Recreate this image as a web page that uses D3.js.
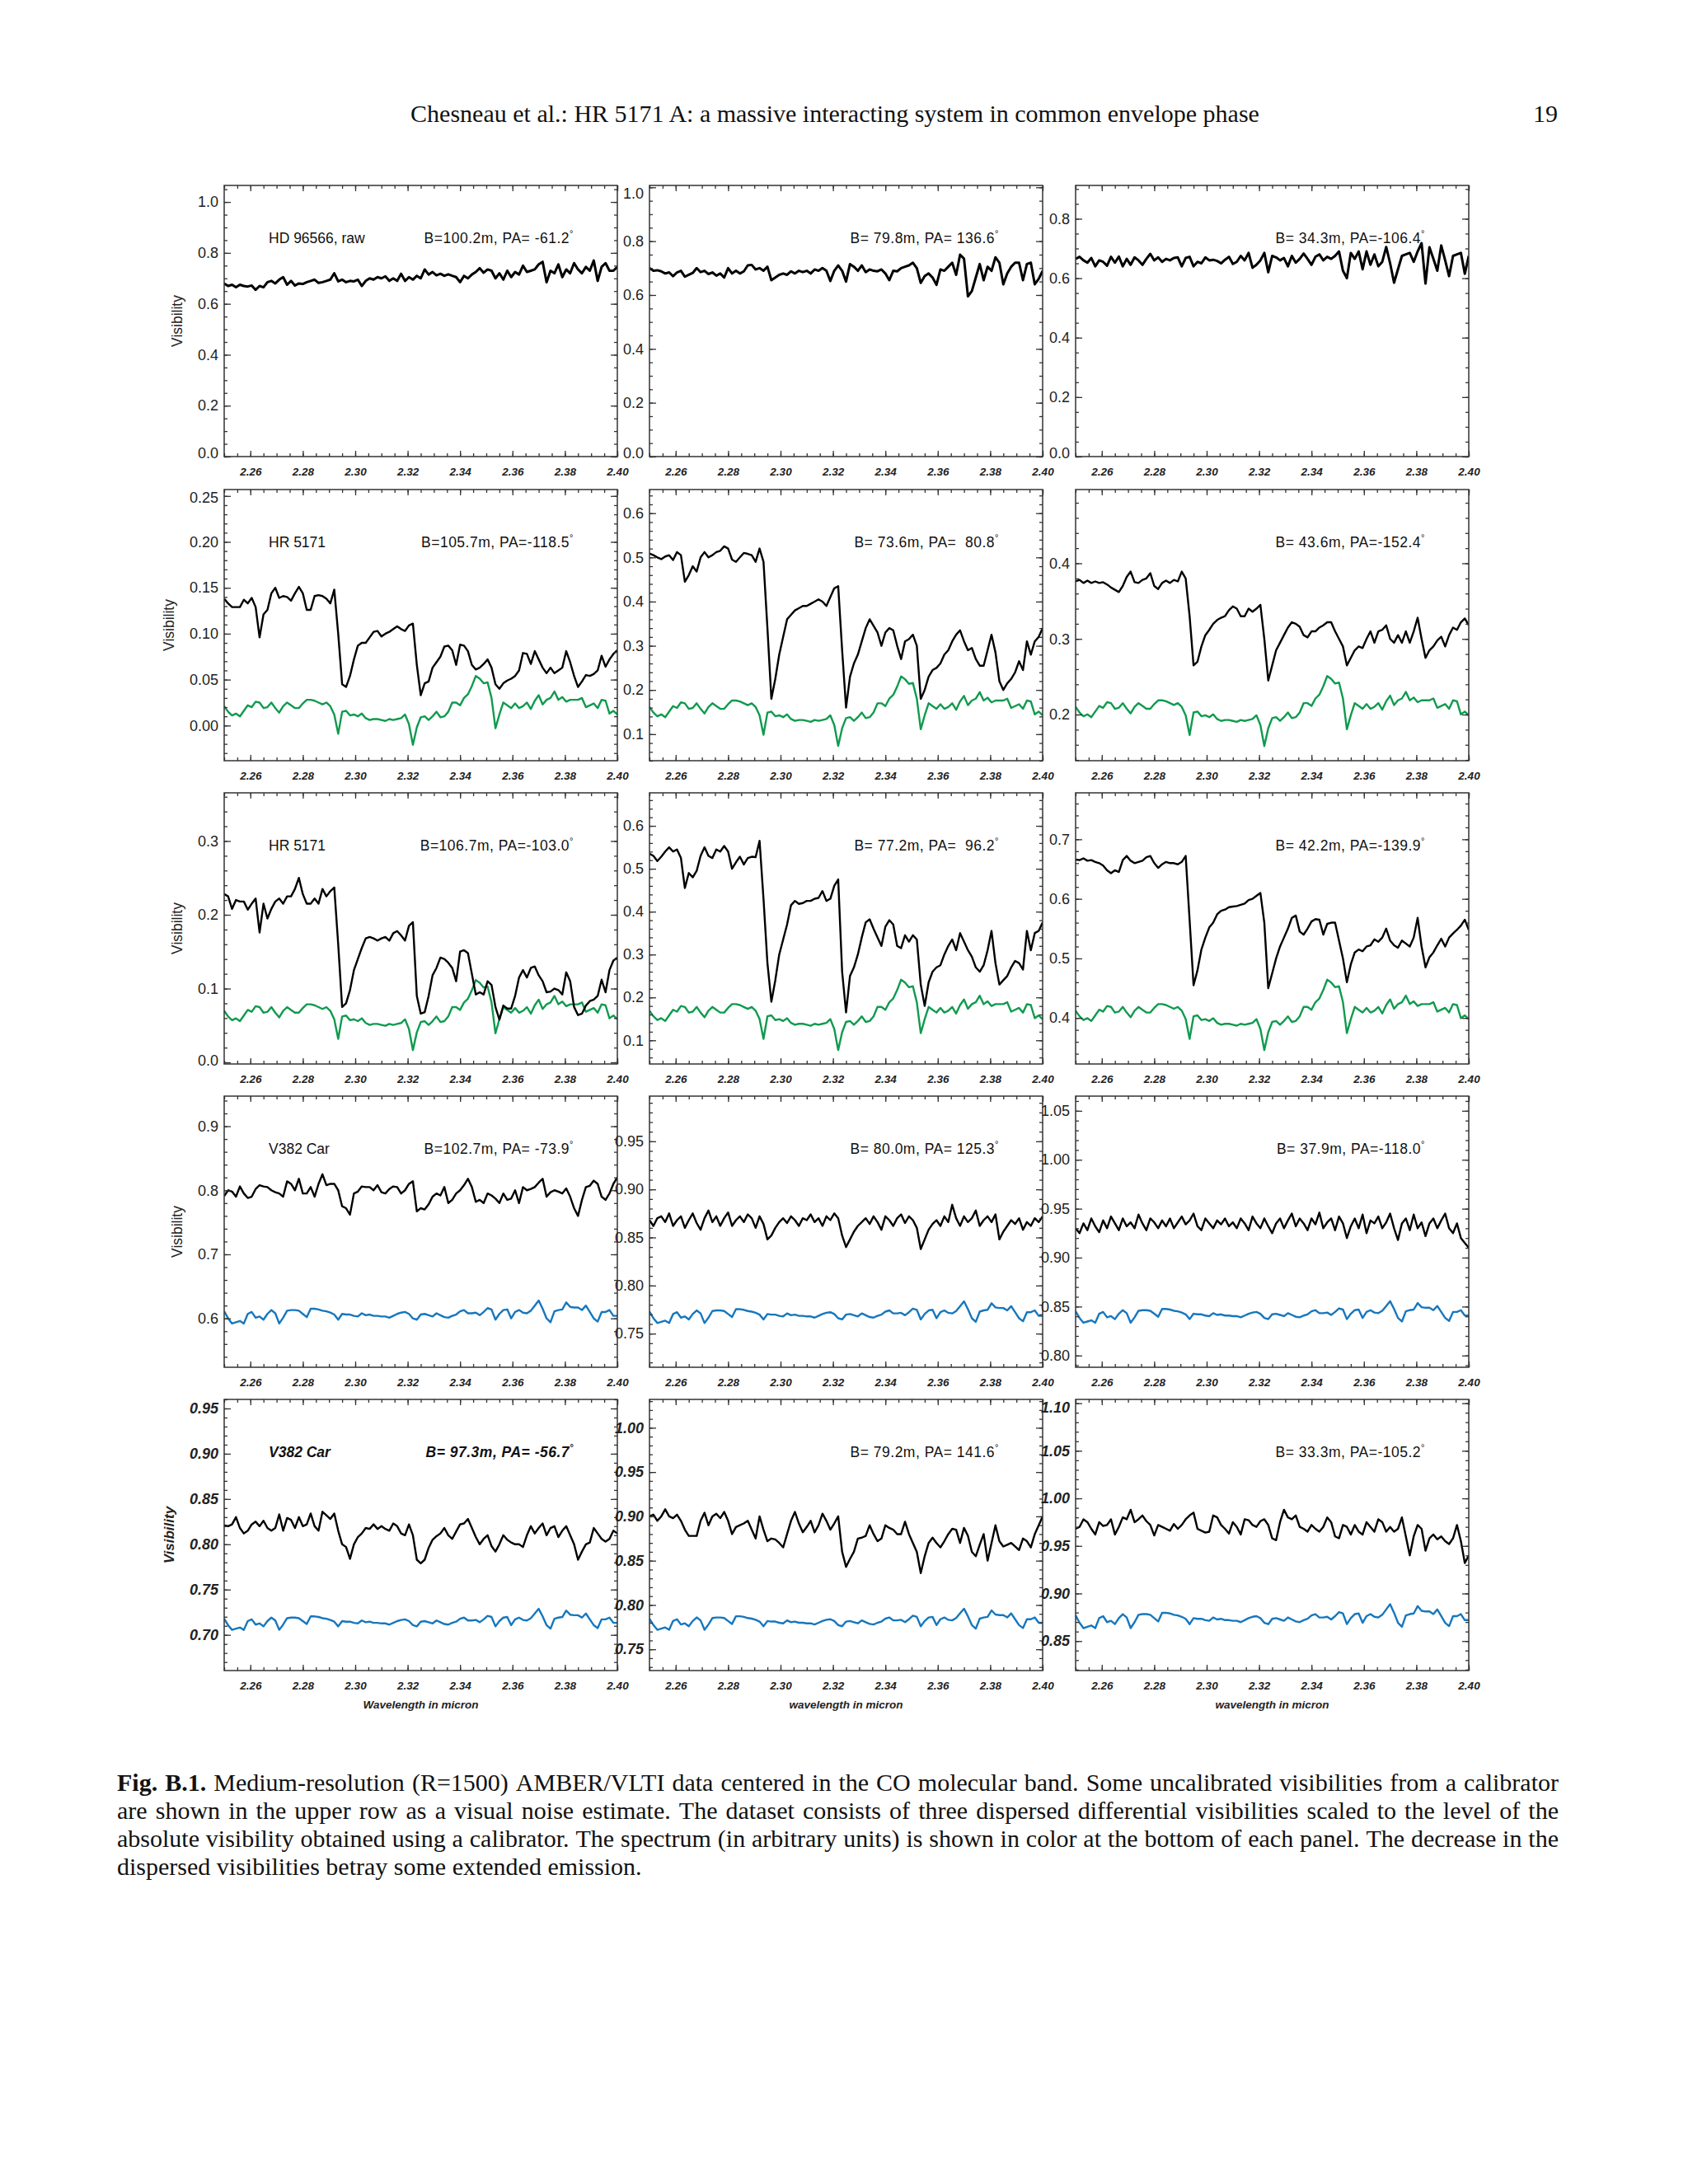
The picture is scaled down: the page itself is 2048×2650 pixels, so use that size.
<!DOCTYPE html>
<html><head><meta charset="utf-8">
<script src="https://cdn.jsdelivr.net/npm/d3@7"></script>
<style>body{margin:0;background:#fff}text{white-space:pre}</style>
</head><body>
<svg id="fig" width="2048" height="2650"></svg>
<script>
// ---------------- DATA ----------------
const headerTitle = "Chesneau et al.: HR 5171 A: a massive interacting system in common envelope phase";
const pageNumber = "19";
const wlStart = 2.25, wlStep = 0.0015, nPts = 101;
const wavelength = d3.range(nPts).map(i => wlStart + i * wlStep);
const xDomain = [2.25, 2.40];
const xTickLabels = [2.26, 2.28, 2.30, 2.32, 2.34, 2.36, 2.38, 2.40];

const targetNames = ["HD 96566, raw", "HR 5171", "HR 5171", "V382 Car", "V382 Car"];
const baselineLabels = [
  "B=100.2m, PA= -61.2", "B= 79.8m, PA= 136.6", "B= 34.3m, PA=-106.4",
  "B=105.7m, PA=-118.5", "B= 73.6m, PA=  80.8", "B= 43.6m, PA=-152.4",
  "B=106.7m, PA=-103.0", "B= 77.2m, PA=  96.2", "B= 42.2m, PA=-139.9",
  "B=102.7m, PA= -73.9", "B= 80.0m, PA= 125.3", "B= 37.9m, PA=-118.0",
  "B= 97.3m, PA= -56.7", "B= 79.2m, PA= 141.6", "B= 33.3m, PA=-105.2"];
const xTitles = ["Wavelength in micron", "wavelength in micron", "wavelength in micron"];

const yDomains = [
  [0, 1.065], [0, 1.007], [0, 0.912],
  [-0.0383, 0.257], [0.040, 0.6535], [0.139, 0.4975],
  [-0.0022, 0.3653], [0.0448, 0.677], [0.3228, 0.778],
  [0.5237, 0.947], [0.715, 0.997], [0.788, 1.065],
  [0.6606, 0.96], [0.726, 1.032], [0.819, 1.104]];
const yTickLabels = [
  [0, 0.2, 0.4, 0.6, 0.8, 1.0], [0, 0.2, 0.4, 0.6, 0.8, 1.0], [0, 0.2, 0.4, 0.6, 0.8],
  [0, 0.05, 0.10, 0.15, 0.20, 0.25], [0.1, 0.2, 0.3, 0.4, 0.5, 0.6], [0.2, 0.3, 0.4],
  [0, 0.1, 0.2, 0.3], [0.1, 0.2, 0.3, 0.4, 0.5, 0.6], [0.4, 0.5, 0.6, 0.7],
  [0.6, 0.7, 0.8, 0.9], [0.75, 0.80, 0.85, 0.90, 0.95], [0.80, 0.85, 0.90, 0.95, 1.00, 1.05],
  [0.70, 0.75, 0.80, 0.85, 0.90, 0.95], [0.75, 0.80, 0.85, 0.90, 0.95, 1.00], [0.85, 0.90, 0.95, 1.00, 1.05, 1.10]];
const yMinorSteps = [0.05, 0.05, 0.05, 0.01, 0.02, 0.02, 0.02, 0.02, 0.02, 0.02, 0.01, 0.01, 0.01, 0.01, 0.01];
const yDecimals = [1, 1, 1, 2, 1, 1, 1, 1, 1, 1, 2, 2, 2, 2, 2];

// Visibilities (black curves), sampled on the wavelength grid
const visHD96566_B100 = [0.68,0.67,0.675,0.665,0.675,0.67,0.668,0.672,0.655,0.67,
 0.665,0.685,0.69,0.68,0.695,0.705,0.675,0.69,0.672,0.68,
 0.678,0.685,0.69,0.695,0.682,0.685,0.69,0.695,0.72,0.688,
 0.695,0.685,0.69,0.688,0.695,0.67,0.69,0.7,0.695,0.705,
 0.7,0.708,0.69,0.7,0.69,0.718,0.69,0.705,0.695,0.71,
 0.7,0.735,0.715,0.725,0.712,0.718,0.71,0.716,0.71,0.705,
 0.685,0.71,0.7,0.715,0.725,0.74,0.722,0.735,0.73,0.7,
 0.72,0.695,0.73,0.705,0.725,0.715,0.75,0.725,0.73,0.735,
 0.755,0.765,0.685,0.73,0.72,0.755,0.705,0.735,0.72,0.76,
 0.735,0.72,0.745,0.73,0.77,0.69,0.745,0.76,0.73,0.73,0.745];
const visHD96566_B80 = [0.70,0.69,0.692,0.688,0.68,0.684,0.67,0.684,0.69,0.668,
 0.675,0.682,0.7,0.685,0.69,0.678,0.684,0.672,0.68,0.665,
 0.7,0.68,0.69,0.68,0.688,0.71,0.712,0.695,0.7,0.69,
 0.705,0.655,0.665,0.675,0.68,0.675,0.688,0.68,0.69,0.685,
 0.69,0.68,0.695,0.69,0.7,0.69,0.652,0.69,0.71,0.69,
 0.65,0.715,0.705,0.69,0.71,0.685,0.695,0.69,0.688,0.695,
 0.68,0.655,0.69,0.688,0.7,0.705,0.71,0.72,0.7,0.645,
 0.67,0.68,0.665,0.638,0.695,0.69,0.705,0.72,0.675,0.75,
 0.735,0.595,0.615,0.665,0.715,0.655,0.705,0.69,0.74,0.72,
 0.64,0.68,0.705,0.72,0.72,0.655,0.715,0.72,0.64,0.66,0.69];
const visHD96566_B34 = [0.665,0.672,0.66,0.652,0.668,0.64,0.66,0.655,0.642,0.672,
 0.652,0.673,0.64,0.665,0.645,0.67,0.66,0.645,0.665,0.682,
 0.66,0.67,0.655,0.665,0.66,0.668,0.67,0.64,0.668,0.672,
 0.64,0.655,0.65,0.67,0.66,0.662,0.658,0.65,0.662,0.672,
 0.648,0.655,0.675,0.66,0.685,0.635,0.645,0.66,0.685,0.62,
 0.675,0.67,0.66,0.668,0.64,0.675,0.652,0.665,0.683,0.665,
 0.645,0.672,0.68,0.66,0.672,0.665,0.675,0.69,0.625,0.6,
 0.685,0.665,0.69,0.63,0.69,0.645,0.68,0.64,0.655,0.705,
 0.65,0.585,0.63,0.675,0.68,0.685,0.655,0.69,0.718,0.582,
 0.704,0.665,0.625,0.71,0.66,0.607,0.675,0.68,0.685,0.615,0.675];
const visHR5171_B106a = [0.138,0.133,0.129,0.129,0.129,0.137,0.133,0.139,0.129,0.096,
 0.121,0.126,0.144,0.150,0.139,0.141,0.140,0.136,0.144,0.151,
 0.144,0.126,0.126,0.141,0.142,0.141,0.138,0.133,0.148,0.10,
 0.045,0.042,0.054,0.072,0.087,0.09,0.09,0.096,0.102,0.103,
 0.097,0.1,0.102,0.105,0.108,0.105,0.103,0.109,0.111,0.066,
 0.033,0.046,0.048,0.063,0.069,0.075,0.086,0.087,0.082,0.066,
 0.088,0.087,0.081,0.066,0.061,0.063,0.067,0.072,0.063,0.045,
 0.04,0.046,0.049,0.051,0.054,0.06,0.079,0.078,0.067,0.081,
 0.072,0.063,0.057,0.063,0.057,0.06,0.063,0.081,0.069,0.054,
 0.042,0.048,0.055,0.054,0.056,0.06,0.076,0.064,0.072,0.078,0.082];
const visHR5171_B74 = [0.509,0.505,0.5,0.496,0.502,0.505,0.494,0.512,0.505,0.445,
 0.46,0.48,0.468,0.5,0.512,0.5,0.505,0.512,0.515,0.525,
 0.52,0.495,0.49,0.5,0.51,0.508,0.505,0.49,0.52,0.49,
 0.34,0.18,0.225,0.28,0.32,0.36,0.37,0.38,0.385,0.39,
 0.39,0.395,0.4,0.405,0.4,0.39,0.41,0.43,0.435,0.29,
 0.16,0.23,0.26,0.28,0.31,0.34,0.36,0.345,0.33,0.3,
 0.33,0.34,0.335,0.3,0.27,0.31,0.315,0.325,0.3,0.18,
 0.2,0.23,0.245,0.25,0.26,0.28,0.29,0.31,0.325,0.335,
 0.31,0.29,0.295,0.27,0.255,0.255,0.29,0.325,0.285,0.22,
 0.2,0.215,0.225,0.24,0.265,0.245,0.31,0.28,0.31,0.32,0.34];
const visHR5171_B44a = [0.376,0.378,0.374,0.377,0.374,0.376,0.374,0.375,0.372,0.368,
 0.365,0.362,0.37,0.382,0.389,0.375,0.374,0.378,0.38,0.387,
 0.37,0.366,0.374,0.377,0.374,0.378,0.376,0.389,0.38,0.33,
 0.265,0.27,0.29,0.305,0.312,0.32,0.325,0.328,0.33,0.338,
 0.343,0.34,0.33,0.33,0.34,0.336,0.34,0.345,0.3,0.245,
 0.265,0.285,0.295,0.305,0.315,0.322,0.32,0.316,0.305,0.302,
 0.31,0.31,0.315,0.318,0.322,0.322,0.31,0.3,0.29,0.265,
 0.275,0.285,0.29,0.288,0.3,0.31,0.295,0.31,0.312,0.318,
 0.3,0.295,0.305,0.295,0.31,0.295,0.31,0.328,0.3,0.275,
 0.285,0.29,0.298,0.303,0.29,0.305,0.315,0.312,0.322,0.327,0.318];
const visHR5171_B107 = [0.228,0.225,0.208,0.22,0.218,0.218,0.207,0.215,0.222,0.176,
 0.215,0.195,0.208,0.218,0.222,0.215,0.225,0.225,0.235,0.25,
 0.228,0.215,0.215,0.222,0.215,0.235,0.225,0.232,0.237,0.16,
 0.075,0.08,0.098,0.125,0.14,0.155,0.168,0.17,0.168,0.165,
 0.168,0.17,0.165,0.175,0.178,0.172,0.165,0.185,0.19,0.09,
 0.066,0.068,0.09,0.118,0.128,0.142,0.14,0.135,0.128,0.11,
 0.15,0.152,0.148,0.12,0.092,0.095,0.092,0.11,0.105,0.075,
 0.058,0.077,0.073,0.073,0.09,0.115,0.125,0.115,0.128,0.13,
 0.118,0.11,0.095,0.096,0.1,0.098,0.092,0.122,0.11,0.075,
 0.064,0.066,0.077,0.083,0.085,0.09,0.112,0.095,0.125,0.138,0.142];
const visHR5171_B77 = [0.535,0.53,0.518,0.528,0.54,0.55,0.54,0.545,0.525,0.455,
 0.49,0.48,0.495,0.53,0.55,0.53,0.525,0.545,0.54,0.553,
 0.54,0.5,0.515,0.528,0.51,0.525,0.528,0.527,0.565,0.43,
 0.28,0.19,0.24,0.3,0.335,0.37,0.415,0.425,0.418,0.42,
 0.425,0.425,0.43,0.432,0.448,0.425,0.43,0.46,0.475,0.26,
 0.165,0.25,0.27,0.3,0.34,0.375,0.382,0.36,0.34,0.32,
 0.365,0.38,0.37,0.32,0.315,0.345,0.33,0.345,0.335,0.23,
 0.18,0.235,0.26,0.27,0.275,0.3,0.32,0.335,0.31,0.35,
 0.33,0.31,0.295,0.27,0.26,0.275,0.31,0.355,0.28,0.23,
 0.24,0.25,0.27,0.285,0.28,0.265,0.355,0.31,0.35,0.355,0.375];
const visHR5171_B42 = [0.666,0.665,0.668,0.664,0.665,0.662,0.66,0.656,0.648,0.643,
 0.648,0.645,0.665,0.672,0.664,0.66,0.662,0.664,0.67,0.672,
 0.66,0.652,0.658,0.662,0.66,0.66,0.658,0.662,0.672,0.564,
 0.455,0.48,0.515,0.535,0.552,0.56,0.574,0.58,0.582,0.586,
 0.587,0.588,0.59,0.592,0.598,0.6,0.605,0.61,0.56,0.45,
 0.475,0.5,0.52,0.535,0.55,0.568,0.572,0.545,0.54,0.55,
 0.562,0.566,0.565,0.54,0.558,0.56,0.56,0.53,0.5,0.46,
 0.49,0.51,0.515,0.512,0.52,0.522,0.532,0.528,0.535,0.55,
 0.53,0.522,0.518,0.53,0.525,0.52,0.535,0.568,0.52,0.485,
 0.502,0.51,0.522,0.533,0.52,0.535,0.542,0.548,0.555,0.565,0.548];
const visV382_B103 = [0.791,0.8,0.798,0.79,0.806,0.795,0.788,0.79,0.802,0.808,
 0.806,0.805,0.8,0.797,0.795,0.79,0.814,0.81,0.8,0.818,
 0.795,0.795,0.805,0.79,0.81,0.825,0.808,0.81,0.81,0.8,
 0.775,0.772,0.762,0.795,0.798,0.806,0.805,0.805,0.8,0.808,
 0.797,0.795,0.802,0.806,0.805,0.795,0.8,0.81,0.814,0.767,
 0.772,0.77,0.778,0.79,0.795,0.792,0.805,0.78,0.785,0.795,
 0.8,0.808,0.818,0.805,0.782,0.785,0.78,0.795,0.792,0.787,
 0.78,0.795,0.785,0.787,0.8,0.78,0.805,0.8,0.802,0.805,
 0.812,0.818,0.79,0.797,0.8,0.798,0.795,0.803,0.79,0.772,
 0.76,0.785,0.805,0.807,0.815,0.81,0.79,0.785,0.795,0.81,0.82];
const visV382_B80 = [0.868,0.862,0.87,0.872,0.866,0.875,0.862,0.868,0.872,0.86,
 0.868,0.875,0.865,0.858,0.87,0.878,0.866,0.872,0.862,0.87,
 0.876,0.862,0.868,0.872,0.866,0.874,0.87,0.86,0.872,0.864,
 0.848,0.852,0.86,0.866,0.87,0.865,0.872,0.868,0.862,0.87,
 0.868,0.874,0.866,0.87,0.862,0.872,0.868,0.875,0.87,0.852,
 0.84,0.848,0.856,0.862,0.866,0.87,0.864,0.872,0.866,0.858,
 0.872,0.868,0.862,0.87,0.874,0.865,0.872,0.868,0.86,0.838,
 0.848,0.858,0.864,0.868,0.862,0.872,0.866,0.884,0.87,0.862,
 0.872,0.866,0.87,0.878,0.862,0.868,0.872,0.866,0.874,0.848,
 0.856,0.862,0.868,0.864,0.87,0.858,0.866,0.862,0.87,0.866,0.872];
const visV382_B38 = [0.93,0.925,0.935,0.928,0.94,0.932,0.926,0.938,0.93,0.942,
 0.935,0.928,0.94,0.932,0.936,0.93,0.944,0.935,0.928,0.94,
 0.936,0.93,0.938,0.932,0.94,0.93,0.936,0.942,0.934,0.938,
 0.945,0.932,0.928,0.94,0.935,0.93,0.938,0.934,0.94,0.932,
 0.936,0.93,0.94,0.935,0.928,0.942,0.935,0.93,0.94,0.932,
 0.925,0.935,0.94,0.93,0.938,0.945,0.932,0.94,0.935,0.928,
 0.94,0.934,0.946,0.93,0.936,0.94,0.928,0.942,0.935,0.92,
 0.932,0.94,0.93,0.944,0.925,0.938,0.935,0.942,0.93,0.936,
 0.945,0.93,0.918,0.935,0.94,0.928,0.944,0.93,0.936,0.922,
 0.935,0.94,0.93,0.938,0.945,0.93,0.925,0.935,0.92,0.915,0.91];
const visV382_B97 = [0.821,0.82,0.822,0.83,0.818,0.812,0.815,0.822,0.825,0.82,
 0.826,0.818,0.815,0.818,0.833,0.815,0.829,0.827,0.818,0.83,
 0.82,0.822,0.834,0.82,0.815,0.836,0.832,0.828,0.834,0.815,
 0.8,0.797,0.784,0.8,0.808,0.812,0.818,0.817,0.822,0.817,
 0.82,0.817,0.815,0.823,0.82,0.812,0.81,0.822,0.81,0.783,
 0.779,0.783,0.796,0.805,0.809,0.812,0.818,0.81,0.806,0.814,
 0.822,0.823,0.828,0.818,0.808,0.8,0.806,0.81,0.798,0.792,
 0.8,0.81,0.805,0.802,0.8,0.8,0.797,0.81,0.82,0.812,
 0.818,0.823,0.81,0.818,0.82,0.808,0.815,0.82,0.81,0.8,
 0.783,0.792,0.8,0.802,0.818,0.812,0.806,0.803,0.806,0.815,0.812];
const visV382_B79 = [0.9,0.902,0.895,0.9,0.908,0.9,0.898,0.902,0.895,0.885,
 0.878,0.878,0.878,0.895,0.904,0.89,0.9,0.903,0.898,0.905,
 0.895,0.88,0.888,0.89,0.892,0.895,0.885,0.875,0.9,0.885,
 0.872,0.875,0.874,0.87,0.865,0.88,0.895,0.905,0.892,0.882,
 0.888,0.895,0.882,0.89,0.903,0.895,0.885,0.892,0.9,0.86,
 0.843,0.852,0.86,0.875,0.876,0.878,0.89,0.88,0.872,0.875,
 0.89,0.887,0.885,0.88,0.88,0.894,0.88,0.87,0.86,0.836,
 0.855,0.87,0.876,0.87,0.865,0.872,0.88,0.886,0.885,0.87,
 0.887,0.878,0.86,0.855,0.868,0.88,0.85,0.87,0.89,0.872,
 0.866,0.868,0.87,0.866,0.862,0.875,0.872,0.865,0.88,0.89,0.9];
const visV382_B33 = [0.968,0.97,0.978,0.975,0.968,0.962,0.975,0.971,0.972,0.978,
 0.962,0.97,0.98,0.978,0.988,0.975,0.978,0.982,0.976,0.972,
 0.961,0.972,0.97,0.968,0.966,0.973,0.968,0.972,0.978,0.982,
 0.985,0.968,0.966,0.964,0.965,0.982,0.98,0.972,0.968,0.963,
 0.975,0.97,0.962,0.978,0.977,0.972,0.97,0.976,0.978,0.972,
 0.958,0.956,0.975,0.988,0.98,0.978,0.982,0.97,0.968,0.965,
 0.972,0.968,0.965,0.97,0.98,0.975,0.96,0.958,0.972,0.97,
 0.962,0.972,0.965,0.962,0.975,0.97,0.965,0.978,0.975,0.965,
 0.97,0.965,0.968,0.98,0.96,0.94,0.96,0.972,0.968,0.945,
 0.958,0.962,0.957,0.96,0.955,0.952,0.958,0.972,0.955,0.932,0.94];

// Spectra (arbitrary units), shown in colour at the bottom of each panel
const specHR5171 = [0.021,0.015,0.011,0.013,0.010,0.016,0.022,0.020,0.026,0.025,
 0.019,0.020,0.025,0.019,0.014,0.021,0.025,0.022,0.019,0.019,
 0.024,0.028,0.028,0.027,0.025,0.023,0.025,0.021,0.012,-0.009,
 0.015,0.016,0.011,0.012,0.010,0.013,0.008,0.006,0.007,0.007,
 0.006,0.005,0.007,0.006,0.007,0.008,0.012,0.0015,-0.021,-0.002,
 0.009,0.010,0.006,0.010,0.015,0.009,0.010,0.015,0.025,0.025,
 0.022,0.030,0.034,0.043,0.054,0.051,0.046,0.047,0.030,-0.003,
 0.012,0.025,0.022,0.019,0.024,0.019,0.021,0.025,0.018,0.027,
 0.033,0.023,0.028,0.030,0.037,0.028,0.031,0.026,0.028,0.028,
 0.028,0.030,0.020,0.022,0.024,0.019,0.028,0.027,0.013,0.016,0.012];
const specV382Car = [0.611,0.6,0.592,0.594,0.596,0.592,0.607,0.61,0.601,0.603,
 0.598,0.607,0.613,0.608,0.592,0.601,0.612,0.613,0.613,0.612,
 0.607,0.602,0.615,0.615,0.614,0.612,0.611,0.609,0.606,0.598,
 0.607,0.606,0.606,0.604,0.603,0.608,0.605,0.606,0.604,0.604,
 0.603,0.603,0.601,0.604,0.607,0.609,0.61,0.607,0.6,0.598,
 0.606,0.607,0.605,0.603,0.608,0.605,0.602,0.601,0.604,0.606,
 0.611,0.613,0.608,0.608,0.609,0.605,0.61,0.616,0.614,0.598,
 0.607,0.613,0.614,0.6,0.61,0.613,0.609,0.608,0.612,0.62,
 0.628,0.615,0.6,0.594,0.611,0.613,0.614,0.625,0.618,0.617,
 0.617,0.613,0.62,0.61,0.6,0.595,0.61,0.61,0.613,0.604,0.604];
// placement of the spectrum in each panel: value = offset + gain * spectrum
const specOffset = [null, null, null, 0, 0.1175, 0.1842, 0.0432, 0.1231, 0.3792, 0, 0.391, 0.4724, 0.3237, 0.3798, 0.4492];
const specGain   = [null, null, null, 1, 2.095, 1.2355, 1.267, 2.187, 1.576, 1, 0.625, 0.61, 0.645, 0.6625, 0.70];

const visSeries = [visHD96566_B100, visHD96566_B80, visHD96566_B34,
  visHR5171_B106a, visHR5171_B74, visHR5171_B44a,
  visHR5171_B107, visHR5171_B77, visHR5171_B42,
  visV382_B103, visV382_B80, visV382_B38,
  visV382_B97, visV382_B79, visV382_B33];
const specSeries = [null, null, null, specHR5171, specHR5171, specHR5171, specHR5171, specHR5171, specHR5171,
  specV382Car, specV382Car, specV382Car, specV382Car, specV382Car, specV382Car];
const specColors = [null, null, null, "#109a4e", "#109a4e", "#109a4e", "#109a4e", "#109a4e", "#109a4e",
  "#1677bd", "#1677bd", "#1677bd", "#1677bd", "#1677bd", "#1677bd"];

const captionLines = [
  "Fig. B.1. Medium-resolution (R=1500) AMBER/VLTI data centered in the CO molecular band. Some uncalibrated visibilities from a calibrator",
  "are shown in the upper row as a visual noise estimate. The dataset consists of three dispersed differential visibilities scaled to the level of the",
  "absolute visibility obtained using a calibrator. The spectrum (in arbitrary units) is shown in color at the bottom of each panel. The decrease in the",
  "dispersed visibilities betray some extended emission."];

// ---------------- LAYOUT ----------------
const colLeft = [272, 788, 1305];
const rowTop = [225, 594, 962, 1330, 1698];
const W = 477, H = 329;
const SANS = "'Liberation Sans', Arial, Helvetica, sans-serif";
const SERIF = "'Liberation Serif', 'Times New Roman', Times, serif";
const AXC = "#333";

const svg = d3.select("#fig");
svg.append("rect").attr("width", 2048).attr("height", 2650).attr("fill", "#fff");

svg.append("text").attr("x", 1013).attr("y", 148).attr("text-anchor", "middle")
  .attr("font-family", SERIF).attr("font-size", 30).attr("fill", "#111").text(headerTitle);
svg.append("text").attr("x", 1890).attr("y", 148).attr("text-anchor", "end")
  .attr("font-family", SERIF).attr("font-size", 30).attr("fill", "#111").text(pageNumber);

const x = d3.scaleLinear().domain(xDomain).range([0, W]);
const xMinor = d3.range(0, 31).map(i => 2.25 + i * 0.005);

function styleAxis(sel) {
  sel.select(".domain").remove();
  sel.selectAll(".tick line").attr("stroke", AXC).attr("stroke-width", 1.3);
}

visSeries.forEach((vis, k) => {
  const r = Math.floor(k / 3), c = k % 3;
  const boldRow = r === 4;
  const g = svg.append("g").attr("transform", `translate(${colLeft[c]},${rowTop[r]})`);
  const y = d3.scaleLinear().domain(yDomains[k]).range([H, 0]);
  const clipId = "clip" + k;
  g.append("clipPath").attr("id", clipId).append("rect").attr("width", W).attr("height", H);
  const line = d3.line().x((d, i) => x(wavelength[i])).y(d => y(d)).curve(d3.curveLinear);

  if (specSeries[k]) {
    const sp = specSeries[k].map(v => specOffset[k] + specGain[k] * v);
    g.append("path").datum(sp).attr("d", line).attr("fill", "none")
      .attr("stroke", specColors[k]).attr("stroke-width", 2.4).attr("stroke-linejoin", "round")
      .attr("clip-path", `url(#${clipId})`);
  }
  g.append("path").datum(vis).attr("d", line).attr("fill", "none")
    .attr("stroke", "#000").attr("stroke-width", r === 0 ? 3 : 2.4).attr("stroke-linejoin", "round")
    .attr("clip-path", `url(#${clipId})`);

  // x axes (bottom with labels, top mirrored)
  const gb = g.append("g").attr("transform", `translate(0,${H})`)
    .call(d3.axisBottom(x).tickValues(xTickLabels).tickSize(-7).tickPadding(13).tickSizeOuter(0).tickFormat(d3.format(".2f")));
  styleAxis(gb);
  gb.selectAll(".tick text").attr("font-family", SANS).attr("font-size", 13.5)
    .attr("font-weight", "bold").attr("font-style", "italic").attr("fill", "#222");
  styleAxis(g.append("g").attr("transform", `translate(0,${H})`)
    .call(d3.axisBottom(x).tickValues(xMinor).tickSize(-4).tickSizeOuter(0).tickFormat("")));
  styleAxis(g.append("g").call(d3.axisTop(x).tickValues(xTickLabels).tickSize(-7).tickSizeOuter(0).tickFormat("")));
  styleAxis(g.append("g").call(d3.axisTop(x).tickValues(xMinor).tickSize(-4).tickSizeOuter(0).tickFormat("")));

  // y axes
  const [lo, hi] = yDomains[k];
  const ms = yMinorSteps[k];
  const yMinor = d3.range(Math.ceil(lo / ms - 1e-6), Math.floor(hi / ms + 1e-6) + 1).map(j => j * ms);
  const gl = g.append("g")
    .call(d3.axisLeft(y).tickValues(yTickLabels[k]).tickSize(-8).tickPadding(7).tickSizeOuter(0)
      .tickFormat(d3.format(`.${yDecimals[k]}f`)));
  styleAxis(gl);
  gl.selectAll(".tick text").attr("font-family", SANS).attr("font-size", 18).attr("fill", "#222")
    .attr("font-weight", boldRow ? "bold" : "normal").attr("font-style", boldRow ? "italic" : "normal")
    .each(function (d) {
      const ty = y(d);
      const cy = Math.min(Math.max(ty, 9.5), H - 4.5);
      d3.select(this).attr("y", cy - ty);
    });
  styleAxis(g.append("g").call(d3.axisLeft(y).tickValues(yMinor).tickSize(-4).tickSizeOuter(0).tickFormat("")));
  styleAxis(g.append("g").attr("transform", `translate(${W},0)`)
    .call(d3.axisRight(y).tickValues(yTickLabels[k]).tickSize(-8).tickSizeOuter(0).tickFormat("")));
  styleAxis(g.append("g").attr("transform", `translate(${W},0)`)
    .call(d3.axisRight(y).tickValues(yMinor).tickSize(-4).tickSizeOuter(0).tickFormat("")));

  // frame
  g.append("rect").attr("width", W).attr("height", H).attr("fill", "none")
    .attr("stroke", AXC).attr("stroke-width", 1.5);

  // y title on left column
  if (c === 0) {
    let maxW = 0;
    gl.selectAll(".tick text").each(function () { maxW = Math.max(maxW, this.getComputedTextLength()); });
    const cx = -7 - maxW - 25;
    g.append("text").attr("transform", `translate(${cx},${H / 2}) rotate(-90)`)
      .attr("text-anchor", "middle").attr("dy", "0.36em")
      .attr("font-family", SANS).attr("font-size", boldRow ? 17 : 17.5)
      .attr("font-weight", boldRow ? "bold" : "normal").attr("font-style", boldRow ? "italic" : "normal")
      .attr("fill", "#222").text("Visibility");
    g.append("text").attr("x", 54).attr("y", 70)
      .attr("font-family", SANS).attr("font-size", 17.5).attr("fill", "#111")
      .attr("font-weight", boldRow ? "bold" : "normal").attr("font-style", boldRow ? "italic" : "normal")
      .text(targetNames[r]);
  }
  // baseline annotation
  const bt = g.append("text").attr("x", 424).attr("y", 70).attr("text-anchor", "end")
    .attr("font-family", SANS).attr("font-size", 17.5).attr("fill", "#111").attr("letter-spacing", 0.5)
    .attr("font-weight", boldRow && c === 0 ? "bold" : "normal")
    .attr("font-style", boldRow && c === 0 ? "italic" : "normal");
  bt.append("tspan").text(baselineLabels[k]);
  bt.append("tspan").attr("font-size", 11).attr("dy", -8).text("°");

  if (r === 4) {
    g.append("text").attr("x", W / 2).attr("y", H + 46).attr("text-anchor", "middle")
      .attr("font-family", SANS).attr("font-size", 13.5).attr("font-weight", "bold")
      .attr("font-style", "italic").attr("fill", "#222").text(xTitles[c]);
  }
});

// caption (justified)
const cap = svg.append("g");
const capX0 = 142, capX1 = 1891, capY0 = 2173, capLH = 34, capFS = 30;
captionLines.forEach((ln, li) => {
  const words = ln.split(" ");
  const yy = capY0 + li * capLH;
  const els = words.map((w, wi) => cap.append("text").attr("y", yy)
    .attr("font-family", SERIF).attr("font-size", capFS).attr("fill", "#111")
    .attr("font-weight", li === 0 && wi < 2 ? "bold" : "normal").text(w));
  const widths = els.map(e => e.node().getComputedTextLength());
  const total = d3.sum(widths);
  const justify = li < captionLines.length - 1;
  const gap = justify ? (capX1 - capX0 - total) / (words.length - 1) : capFS * 0.25;
  let xx = capX0;
  els.forEach((e, i) => { e.attr("x", xx); xx += widths[i] + gap; });
});
</script>
</body></html>
